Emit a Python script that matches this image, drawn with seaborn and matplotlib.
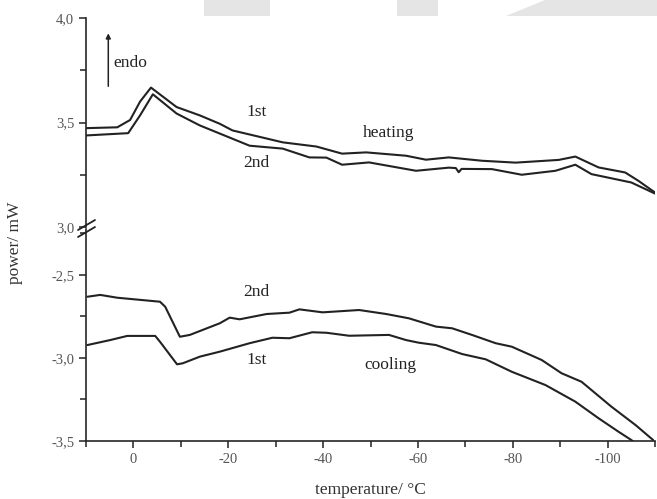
import matplotlib
matplotlib.use('Agg')
import matplotlib.pyplot as plt
from matplotlib.patches import Polygon
from matplotlib.ticker import MultipleLocator, FuncFormatter
import numpy as np
import seaborn as sns

# heating run (upper panel), temperature in °C, power in mW
heat1_t = [10, 3.4, 0.7, -1.4, -3.7, -9.1, -14.0, -18.2, -20.9, -31.5, -38.6, -44.0, -49.1,
           -57.5, -61.7, -66.5, -73.5, -80.6, -89.7, -93.2, -98.1, -103.7, -106.5, -110]
heat1_p = [3.473, 3.477, 3.512, 3.600, 3.667, 3.574, 3.534, 3.494, 3.462, 3.405, 3.385, 3.351, 3.357,
           3.341, 3.322, 3.333, 3.317, 3.308, 3.321, 3.337, 3.285, 3.261, 3.221, 3.165]
heat2_t = [10, 1.1, -1.4, -4.1, -9.1, -14.0, -24.5, -31.5, -37.1, -40.7, -44.0, -49.7, -59.6,
           -66.5, -68.0, -68.6, -69.2, -75.6, -81.9, -89.0, -93.2, -96.6, -105.0, -110]
heat2_p = [3.438, 3.449, 3.534, 3.635, 3.543, 3.486, 3.389, 3.375, 3.333, 3.332, 3.298, 3.309, 3.269,
           3.284, 3.282, 3.262, 3.278, 3.277, 3.250, 3.269, 3.298, 3.253, 3.213, 3.160]

# cooling run (lower panel)
cool2_t = [9.7, 7.0, 3.4, -5.6, -6.7, -9.8, -11.9, -18.2, -20.3, -22.4, -28.1, -32.9, -35.0, -39.9,
           -47.6, -53.3, -58.1, -63.8, -67.2, -71.4, -76.4, -79.8, -86.1, -90.3, -94.5, -100.8,
           -105.9, -109.6]
cool2_p = [-2.631, -2.620, -2.637, -2.661, -2.691, -2.872, -2.861, -2.791, -2.757, -2.767, -2.735,
           -2.727, -2.707, -2.725, -2.711, -2.735, -2.761, -2.811, -2.821, -2.861, -2.911, -2.932,
           -3.012, -3.092, -3.143, -3.293, -3.404, -3.494]
cool1_t = [9.7, 4.9, 1.3, -4.6, -5.6, -9.2, -10.4, -14.0, -18.2, -24.5, -29.3, -32.9, -37.7, -40.7,
           -45.5, -53.9, -57.5, -60.2, -63.8, -69.3, -74.3, -79.8, -86.9, -93.2, -98.1, -102.3,
           -105.0, -107.5]
cool1_p = [-2.922, -2.892, -2.867, -2.867, -2.902, -3.038, -3.032, -2.992, -2.962, -2.911, -2.878,
           -2.881, -2.845, -2.848, -2.866, -2.861, -2.892, -2.908, -2.922, -2.976, -3.008, -3.083,
           -3.163, -3.263, -3.363, -3.444, -3.494, -3.548]

sns.set_style('ticks')
plt.rcParams['font.family'] = ['Liberation Serif', 'DejaVu Serif']
plt.rcParams['axes.unicode_minus'] = False

W, H = 657, 499
fig = plt.figure(figsize=(W / 100, H / 100), dpi=100)

# light grey page decorations along the top edge
for pts in ([(204, 0), (270, 0), (270, 16), (204, 16)],
            [(397, 0), (438, 0), (438, 16), (397, 16)],
            [(545, 0), (657, 0), (657, 16), (506, 16)]):
    fig.patches.append(Polygon([(x / W, 1 - y / H) for x, y in pts], closed=True,
                               transform=fig.transFigure, facecolor='#e5e5e5', edgecolor='none'))

left, right = 86 / W, 655 / W
ax_top = fig.add_axes([left, 1 - 227 / H, right - left, (227 - 18) / H])
ax_bot = fig.add_axes([left, 1 - 441 / H, right - left, (441 - 229) / H])

lc = '#222222'
for ax, t, p in ((ax_top, heat1_t, heat1_p), (ax_top, heat2_t, heat2_p),
                 (ax_bot, cool2_t, cool2_p), (ax_bot, cool1_t, cool1_p)):
    sns.lineplot(x=t, y=p, ax=ax, color=lc, lw=1.5, estimator=None, sort=False)

comma = FuncFormatter(lambda v, p: f'{v:.1f}'.replace('.', ','))
for ax in (ax_top, ax_bot):
    ax.set_xlim(10, -110)
    ax.spines['right'].set_visible(False)
    ax.spines['top'].set_visible(False)
    ax.spines['left'].set_linewidth(1.2)
    ax.spines['bottom'].set_linewidth(1.2)
    ax.yaxis.set_major_locator(MultipleLocator(0.5))
    ax.yaxis.set_minor_locator(MultipleLocator(0.25))
    ax.yaxis.set_major_formatter(comma)
    ax.tick_params(axis='both', which='major', direction='out', length=5, width=1.1,
                   labelsize=10.5, labelcolor='#555555', color='#222222')
    ax.tick_params(axis='both', which='minor', direction='out', length=4, width=1.1, color='#222222')
    ax.set_xlabel('')
    ax.set_ylabel('')
    ax.patch.set_alpha(0)

ax_top.set_ylim(3.0, 4.0)
ax_top.spines['bottom'].set_visible(False)
ax_top.tick_params(axis='x', which='both', bottom=False, labelbottom=False)

ax_bot.set_ylim(-3.5, -2.223)
ax_bot.xaxis.set_major_locator(MultipleLocator(20))
ax_bot.xaxis.set_minor_locator(MultipleLocator(10))
ax_bot.xaxis.set_major_formatter(FuncFormatter(lambda v, p: f'{v:.0f}'))

# axis break marks
for dy in (-3, 4):
    y0 = 1 - (228 + dy) / H
    fig.add_artist(plt.Line2D([left - 8 / W, left + 9 / W], [y0 - 5 / H, y0 + 5 / H],
                              transform=fig.transFigure, color='#222222', lw=1.3))

fs = 12.5
tc = '#222222'
ax_top.annotate('', xy=(5.3, 3.94), xytext=(5.3, 3.66),
                arrowprops=dict(arrowstyle='-|>', color=tc, lw=1.1, mutation_scale=7))
ax_top.text(4.3, 3.784, 'endo', fontsize=fs, color=tc, ha='left', va='center')
ax_top.text(-26.0, 3.548, '1st', fontsize=fs, color=tc, ha='center', va='center')
ax_top.text(-53.9, 3.452, 'heating', fontsize=fs, color=tc, ha='center', va='center')
ax_top.text(-26.0, 3.308, '2nd', fontsize=fs, color=tc, ha='center', va='center')
ax_bot.text(-26.0, -2.602, '2nd', fontsize=fs, color=tc, ha='center', va='center')
ax_bot.text(-26.0, -3.012, '1st', fontsize=fs, color=tc, ha='center', va='center')
ax_bot.text(-54.3, -3.042, 'cooling', fontsize=fs, color=tc, ha='center', va='center')

fig.text(370 / W, 1 - 490 / H, 'temperature/ °C', fontsize=12.5, color='#333333',
         ha='center', va='center')
fig.text(15 / W, 1 - 243 / H, 'power/ mW', fontsize=12.5, color='#333333',
         ha='center', va='center', rotation=90)

fig.savefig('out.png', dpi=100)
